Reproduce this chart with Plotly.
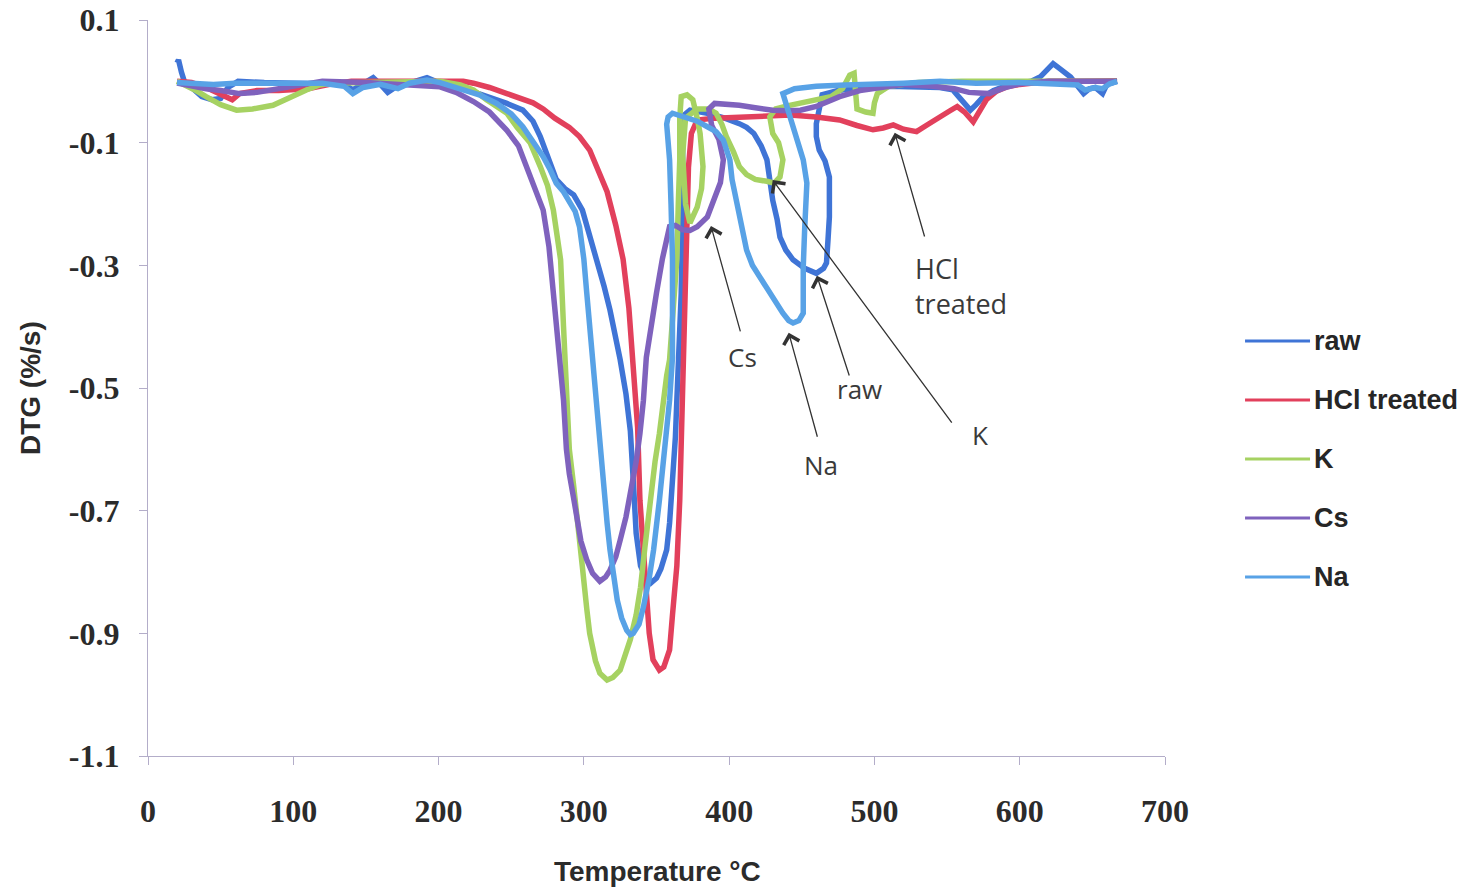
import plotly.graph_objects as go

# DTG curves (temperature in °C, DTG in %/s)
raw_T = [20, 21, 23, 25, 30, 37, 44, 50, 55, 62, 80, 100, 120, 135, 141, 147, 155, 160, 165, 170, 178, 186, 192, 198, 205, 215, 225, 235, 247, 258, 265, 270, 276, 281, 287, 293, 299, 304, 309, 314, 318, 322, 325, 329, 332, 334, 336, 339, 343, 346, 350, 353, 357, 359, 361, 363, 364, 366, 367, 368, 368, 369, 373, 385, 397, 407, 412, 417, 422, 426, 428, 430, 433, 435, 439, 444, 452, 460, 465, 467, 468, 469, 469, 466, 462, 460, 460, 462, 464, 475, 490, 510, 530, 545, 554, 560, 566, 570, 575, 582, 590, 600, 608, 614, 619, 623, 628, 635, 640, 644, 648, 652, 657, 660, 667]
raw_DTG = [0.03, 0.035, 0.015, 0.0, -0.01, -0.025, -0.03, -0.028, -0.01, 0.0, -0.002, -0.003, -0.003, -0.005, -0.014, -0.005, 0.006, -0.005, -0.018, -0.01, -0.005, 0.002, 0.006, 0.0, -0.004, -0.01, -0.018, -0.026, -0.036, -0.047, -0.065, -0.09, -0.125, -0.16, -0.175, -0.185, -0.21, -0.25, -0.291, -0.335, -0.373, -0.415, -0.454, -0.51, -0.57, -0.65, -0.737, -0.79, -0.812, -0.818, -0.81, -0.795, -0.764, -0.72, -0.655, -0.58, -0.52, -0.43, -0.346, -0.22, -0.1, -0.055, -0.047, -0.052, -0.06, -0.069, -0.075, -0.085, -0.105, -0.128, -0.16, -0.194, -0.225, -0.254, -0.275, -0.291, -0.305, -0.313, -0.305, -0.296, -0.26, -0.221, -0.156, -0.13, -0.112, -0.09, -0.069, -0.041, -0.022, -0.015, -0.01, -0.008, -0.008, -0.01, -0.014, -0.03, -0.047, -0.038, -0.025, -0.015, -0.008, -0.003, 0.0, 0.007, 0.02, 0.029, 0.02, 0.007, -0.008, -0.02, -0.012, -0.01, -0.02, -0.005, 0.0]

hcl_T = [20, 30, 40, 50, 58, 63, 75, 90, 110, 125, 140, 170, 200, 217, 224, 235, 247, 258, 265, 272, 280, 290, 297, 304, 310, 316, 322, 327, 331, 334, 337, 338.6, 341, 343, 345, 347.6, 350, 352, 355, 359, 361, 364, 366, 368, 370, 371, 372, 374, 378, 390, 407, 425, 442, 460, 476, 488, 499, 506, 513, 520, 529, 537, 545, 552, 557, 562, 568, 572, 577, 584, 591, 600, 610, 620, 640, 667]
hcl_DTG = [0.0, -0.002, -0.01, -0.02, -0.03, -0.02, -0.015, -0.015, -0.012, -0.005, 0.0, 0.0, 0.0, 0.0, -0.003, -0.01, -0.02, -0.028, -0.035, -0.045, -0.06, -0.075, -0.09, -0.112, -0.145, -0.18, -0.235, -0.29, -0.37, -0.454, -0.564, -0.683, -0.77, -0.846, -0.9, -0.943, -0.955, -0.96, -0.955, -0.927, -0.87, -0.79, -0.683, -0.52, -0.38, -0.25, -0.14, -0.085, -0.063, -0.06, -0.058, -0.056, -0.055, -0.058, -0.063, -0.072, -0.079, -0.076, -0.071, -0.078, -0.082, -0.07, -0.057, -0.048, -0.041, -0.05, -0.066, -0.05, -0.03, -0.016, -0.009, -0.005, -0.002, 0.0, 0.0, 0.001]

k_T = [20, 25, 33, 40, 50, 61, 72, 86, 98, 109, 118, 125, 150, 180, 201, 215, 224, 233, 240, 247, 254, 263, 270, 275, 279, 284, 286, 288, 290, 293, 295, 299, 302, 304, 308, 311, 316, 320, 325, 329, 332, 336, 339, 342, 345.5, 349, 352, 354.5, 357, 359, 362, 364, 365, 366, 366, 367, 371, 375, 378, 380, 382, 381, 378, 373, 370, 368, 370, 378, 386, 391, 395, 398, 403, 407, 412, 418, 426, 431, 435, 437, 434, 430, 428, 432, 440, 450, 460, 470, 478, 483, 486, 487, 488, 494, 499, 500, 502, 510, 530, 560, 600, 640, 667]
k_DTG = [0.0, -0.005, -0.015, -0.025, -0.038, -0.047, -0.045, -0.039, -0.025, -0.014, -0.006, -0.003, -0.002, 0.0, 0.0, -0.006, -0.014, -0.03, -0.04, -0.052, -0.075, -0.1, -0.139, -0.17, -0.21, -0.291, -0.4, -0.508, -0.6, -0.66, -0.7, -0.792, -0.86, -0.9, -0.945, -0.965, -0.976, -0.972, -0.96, -0.935, -0.91, -0.87, -0.825, -0.76, -0.683, -0.62, -0.574, -0.52, -0.48, -0.454, -0.37, -0.29, -0.2, -0.128, -0.06, -0.025, -0.022, -0.03, -0.06, -0.085, -0.139, -0.175, -0.205, -0.231, -0.2, -0.12, -0.06, -0.045, -0.045, -0.052, -0.07, -0.09, -0.115, -0.139, -0.152, -0.16, -0.163, -0.166, -0.156, -0.128, -0.1, -0.085, -0.058, -0.045, -0.04, -0.035, -0.03, -0.025, -0.012, 0.01, 0.013, -0.01, -0.045, -0.05, -0.052, -0.035, -0.02, -0.008, -0.002, 0.0, 0.0, 0.0, 0.0]

cs_T = [20, 30, 40, 50, 63, 75, 90, 105, 120, 150, 170, 190, 201, 212, 224, 235, 247, 255, 263, 268, 272, 276, 279, 283, 286, 288, 290, 293, 295, 298, 302, 306, 311, 315, 318, 322, 325, 329, 332, 336, 338.6, 341, 343, 346, 350, 354, 359, 363, 368, 373, 378, 385, 389, 394, 396, 393, 388, 386, 390, 400, 407, 418, 430, 440, 449, 460, 468, 476, 490, 505, 520, 540, 555, 565, 579, 590, 600, 620, 640, 667]
cs_DTG = [-0.003, -0.008, -0.012, -0.015, -0.02, -0.018, -0.012, -0.005, 0.0, -0.002, -0.005, -0.006, -0.009, -0.018, -0.033, -0.05, -0.08, -0.105, -0.156, -0.185, -0.21, -0.27, -0.346, -0.43, -0.52, -0.6, -0.64, -0.68, -0.71, -0.75, -0.78, -0.802, -0.815, -0.808, -0.797, -0.775, -0.748, -0.71, -0.671, -0.62, -0.574, -0.52, -0.45, -0.4, -0.345, -0.29, -0.237, -0.235, -0.242, -0.243, -0.237, -0.221, -0.194, -0.165, -0.128, -0.095, -0.072, -0.045, -0.036, -0.037, -0.039, -0.043, -0.047, -0.048, -0.047, -0.041, -0.033, -0.025, -0.015, -0.01, -0.005, -0.008, -0.012, -0.018, -0.02, -0.01, -0.004, 0.0, 0.0, 0.0]

na_T = [20, 30, 45, 60, 80, 100, 120, 135, 141, 148, 160, 172, 180, 192, 201, 210, 217, 228, 240, 250, 258, 265, 272, 277, 281, 286, 290, 294, 297, 300, 302, 304, 306, 309, 311, 313, 316, 318, 321, 323, 326, 329.5, 332, 334, 338, 341, 345, 348, 352, 355, 357, 359, 361, 361, 360, 359, 357, 358, 361, 370, 378, 385, 391, 396, 400.5, 402, 405, 408, 412, 416, 421, 429, 437, 441, 444, 448, 451, 451, 451, 452, 453.5, 451, 446, 442, 438, 437, 445, 460, 480, 500, 520, 545, 570, 600, 620, 640, 645, 652, 657, 662, 667]
na_DTG = [-0.002, -0.003, -0.005, -0.003, -0.002, -0.003, -0.003, -0.008, -0.02, -0.01, -0.005, -0.012, -0.003, 0.002, -0.002, -0.008, -0.014, -0.022, -0.036, -0.053, -0.074, -0.097, -0.123, -0.145, -0.166, -0.18, -0.194, -0.212, -0.237, -0.29, -0.345, -0.4, -0.454, -0.53, -0.59, -0.655, -0.72, -0.764, -0.81, -0.846, -0.875, -0.895, -0.902, -0.9, -0.885, -0.857, -0.81, -0.764, -0.683, -0.62, -0.574, -0.52, -0.45, -0.29, -0.2, -0.128, -0.07, -0.058, -0.052, -0.058, -0.065, -0.074, -0.082, -0.096, -0.128, -0.16, -0.194, -0.235, -0.275, -0.3, -0.319, -0.348, -0.378, -0.39, -0.394, -0.39, -0.378, -0.34, -0.303, -0.24, -0.166, -0.128, -0.09, -0.058, -0.035, -0.02, -0.012, -0.008, -0.006, -0.005, -0.003, 0.0, -0.003, -0.002, -0.003, -0.006, -0.014, -0.01, -0.012, -0.004, 0.0]

series_names = ["raw", "HCl treated", "K", "Cs", "Na"]
series_colors = ["#3f74d6", "#e2405c", "#a6d262", "#7f62bd", "#58a2e6"]
series_T = [raw_T, hcl_T, k_T, cs_T, na_T]
series_DTG = [raw_DTG, hcl_DTG, k_DTG, cs_DTG, na_DTG]

y_ticks = [0.1, -0.1, -0.3, -0.5, -0.7, -0.9, -1.1]
y_tick_text = ["0.1", "-0.1", "-0.3", "-0.5", "-0.7", "-0.9", "-1.1"]
x_ticks = [0, 100, 200, 300, 400, 500, 600, 700]

# callouts: label, label position, arrow tail, arrow head (data units)
callouts = [
    ("HCl<br>treated", (526.5, -0.333), (534.8, -0.2555), (514.0, -0.084)),
    ("Cs", (409.5, -0.449), (408.0, -0.41), (387.5, -0.236)),
    ("Na", (463.0, -0.626), (461.0, -0.582), (441.0, -0.41)),
    ("raw", (490.0, -0.502), (483.0, -0.482), (460.4, -0.317)),
    ("K", (573.0, -0.577), (554.0, -0.559), (430.0, -0.161)),
]

fig = go.Figure()
for name, color, T, D in zip(series_names, series_colors, series_T, series_DTG):
    fig.add_trace(go.Scatter(x=T, y=D, mode="lines", name=name,
                             line=dict(color=color, width=5.5),
                             showlegend=False))

axis_color = "#b3adc9"
tick_font = dict(family="Liberation Serif", size=32, color="#2b2b2b", weight="bold")

fig.update_xaxes(range=[0, 700], tickvals=x_ticks, showgrid=False, zeroline=False,
                 showline=True, linecolor=axis_color, linewidth=1.2,
                 ticks="outside", ticklen=8, tickcolor=axis_color,
                 tickfont=tick_font, ticklabelstandoff=18, automargin=False)
fig.update_yaxes(range=[-1.1, 0.1], tickvals=y_ticks, ticktext=y_tick_text,
                 showgrid=False, zeroline=False,
                 showline=True, linecolor=axis_color, linewidth=1.2,
                 ticks="outside", ticklen=8, tickcolor=axis_color,
                 tickfont=tick_font, ticklabelstandoff=13, automargin=False)

annotations = []
# axis titles
annotations.append(dict(text="DTG (%/s)", xref="paper", yref="paper", x=-0.116, y=0.5,
                        xanchor="center", yanchor="middle",
                        textangle=-90, showarrow=False,
                        font=dict(family="Liberation Sans", size=28, color="#2b2b2b", weight="bold")))
annotations.append(dict(text="Temperature °C", xref="paper", yref="paper", x=0.5005, y=-0.1576,
                        xanchor="center", yanchor="middle", showarrow=False,
                        font=dict(family="Liberation Sans", size=28, color="#2b2b2b", weight="bold")))

# callout arrows and labels
label_font = dict(family="Open Sans", size=26, color="#3a3a3a")
for text, (tx, ty), (ax_, ay_), (hx, hy) in callouts:
    annotations.append(dict(x=hx, y=hy, xref="x", yref="y", ax=ax_, ay=ay_,
                            axref="x", ayref="y", text="", showarrow=True,
                            arrowhead=4, arrowsize=2.4, arrowwidth=1.3,
                            arrowcolor="#333333"))
    if "<br>" in text:
        annotations.append(dict(x=tx, y=ty, xref="x", yref="y", text=text, showarrow=False,
                                xanchor="left", yanchor="middle", align="left",
                                font=dict(family="Open Sans", size=27, color="#3a3a3a")))
    else:
        annotations.append(dict(x=tx, y=ty, xref="x", yref="y", text=text, showarrow=False,
                                xanchor="center", yanchor="middle", font=label_font))

# legend drawn beside the plot
shapes = []
legend_y = [0.5639, 0.4837, 0.4035, 0.3234, 0.2432]
for name, color, ly in zip(series_names, series_colors, legend_y):
    shapes.append(dict(type="line", xref="paper", yref="paper",
                       x0=1.0787, x1=1.1426, y0=ly, y1=ly,
                       line=dict(color=color, width=3)))
    annotations.append(dict(text=name, xref="paper", yref="paper", x=1.1445, y=ly,
                            xanchor="left", yanchor="middle", showarrow=False,
                            font=dict(family="Liberation Sans", size=27, color="#262626", weight="bold")))

fig.update_layout(width=1469, height=891,
                  margin=dict(l=148, r=304, t=20, b=135),
                  plot_bgcolor="white", paper_bgcolor="white",
                  annotations=annotations, shapes=shapes)

fig.write_html("out.html")
